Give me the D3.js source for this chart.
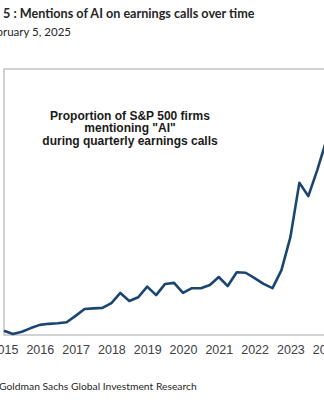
<!DOCTYPE html>
<html>
<head>
<meta charset="utf-8">
<script src="https://cdn.jsdelivr.net/npm/d3@7"></script>
<style>
    body { margin: 0; background: #fff; }
    svg { display: block; }
</style>
</head>
<body>
<svg id="chart"></svg>
<script>
// quarterly share of S&P 500 firms mentioning "AI" (%), from 2015 Q1
const quarters = d3.range(37).map(i => 2015 + i / 4);
const aiShare = [
    0.8, 0.2, 0.6, 1.3, 1.9, 2.1, 2.2, 2.4,
    3.6, 4.9, 5.0, 5.1, 6.0, 7.9, 6.4, 7.1,
    9.1, 7.5, 9.6, 9.8, 7.9, 8.8, 8.8, 9.4,
    10.9, 9.2, 11.8, 11.7, 10.7, 9.6, 8.8, 12.2,
    18.4, 28.6, 26.1, 31.0, 36.5
];
const yearTicks = [2015, 2016, 2017, 2018, 2019, 2020, 2021, 2022, 2023, 2024];
const titleHead = "Exhibit";
const titleText = "5 : Mentions of AI on earnings calls over time";
const dateHead = "As of Feb";
const dateText = "ruary 5, 2025";
const noteLines = ["Proportion of S&P 500 firms", "mentioning \"AI\"", "during quarterly earnings calls"];
const sourceHead = "Source:";
const sourceText = "Goldman Sachs Global Investment Research";

class AiChart {

    constructor( config, x, y ){
	this.config = {
	    parent: config.parent,
	    width: config.width || 324,
	    height: config.height || 400,
	    margin: config.margin || {top: 69, left: 4, bottom: 65}
	}
	this.x = x;
	this.y = y;
	this.init();
    }

    init() {
	let self = this;
	let m = self.config.margin;

	self.svg = d3.select( self.config.parent )
	    .attr('width', self.config.width)
	    .attr('height', self.config.height);

	self.bottom = self.config.height - m.bottom;

	// chart continues past the right edge of the picture
	self.xscale = d3.scaleLinear()
	    .domain([2015, 2025])
	    .range([m.left, m.left + 358]);

	self.yscale = d3.scaleLinear()
	    .domain([0, 50])
	    .range([self.bottom, m.top]);

	self.xaxis = d3.axisBottom(self.xscale)
	    .tickValues(yearTicks)
	    .tickFormat(d3.format('d'))
	    .tickSize(0)
	    .tickPadding(10);

	self.line = d3.line()
	    .x((d, i) => self.xscale(self.x[i]))
	    .y(d => self.yscale(d));
    }

    // text whose visible part starts at x0 and spans width w; head runs off the left edge
    cutText(head, body, x0, gap, y, w, weight, size) {
	let self = this;
	let t = self.svg.append('text')
	    .attr('y', y)
	    .attr('font-family', 'Lato, sans-serif')
	    .attr('font-weight', weight)
	    .attr('font-size', size)
	    .attr('fill', '#262626')
	    .text(body);
	let fs = size * w / t.node().getComputedTextLength();
	t.attr('font-size', fs).attr('x', x0);
	self.svg.append('text')
	    .attr('x', x0 - gap).attr('y', y)
	    .attr('text-anchor', 'end')
	    .attr('font-family', 'Lato, sans-serif')
	    .attr('font-weight', weight)
	    .attr('font-size', fs)
	    .attr('fill', '#262626')
	    .text(head);
    }

    render() {
	let self = this;
	let m = self.config.margin;

	// frame
	self.svg.append('path')
	    .attr('d', `M${self.config.width + 10},${m.top}H${m.left}V${self.bottom}H${self.config.width + 10}`)
	    .attr('fill', 'none')
	    .attr('stroke', '#c4c4c4')
	    .attr('stroke-width', 1.5);

	self.svg.append('path')
	    .datum(self.y)
	    .attr('d', self.line)
	    .attr('fill', 'none')
	    .attr('stroke', '#1b4571')
	    .attr('stroke-width', 2.6)
	    .attr('stroke-linejoin', 'round');

	let xg = self.svg.append('g')
	    .attr('transform', `translate(0, ${self.bottom})`)
	    .call( self.xaxis );
	xg.select('.domain').remove();
	xg.selectAll('text')
	    .attr('font-family', 'Liberation Sans, Arial, sans-serif')
	    .attr('font-size', 12.5)
	    .attr('fill', '#404040');

	self.cutText(titleHead, titleText, 3, 5, 18, 252, 'bold', 14);
	self.cutText(dateHead, dateText, 3, 0, 35.5, 68, 'normal', 12);
	self.cutText(sourceHead, sourceText, -1, 4, 389.5, 198, 'normal', 12);

	self.svg.append('text')
	    .attr('x', 130).attr('y', 119.5)
	    .attr('text-anchor', 'middle')
	    .attr('font-family', 'Liberation Sans, Arial, sans-serif')
	    .attr('font-weight', 'bold')
	    .attr('font-size', 12)
	    .attr('fill', '#1a1a1a')
	    .selectAll('tspan')
	    .data(noteLines)
	    .join('tspan')
	    .attr('x', 130)
	    .attr('dy', (d, i) => i ? 12.5 : 0)
	    .text(d => d);
    }
}

let chart = new AiChart({parent: '#chart', width: 324, height: 400}, quarters, aiShare);
chart.render();
</script>
</body>
</html>
